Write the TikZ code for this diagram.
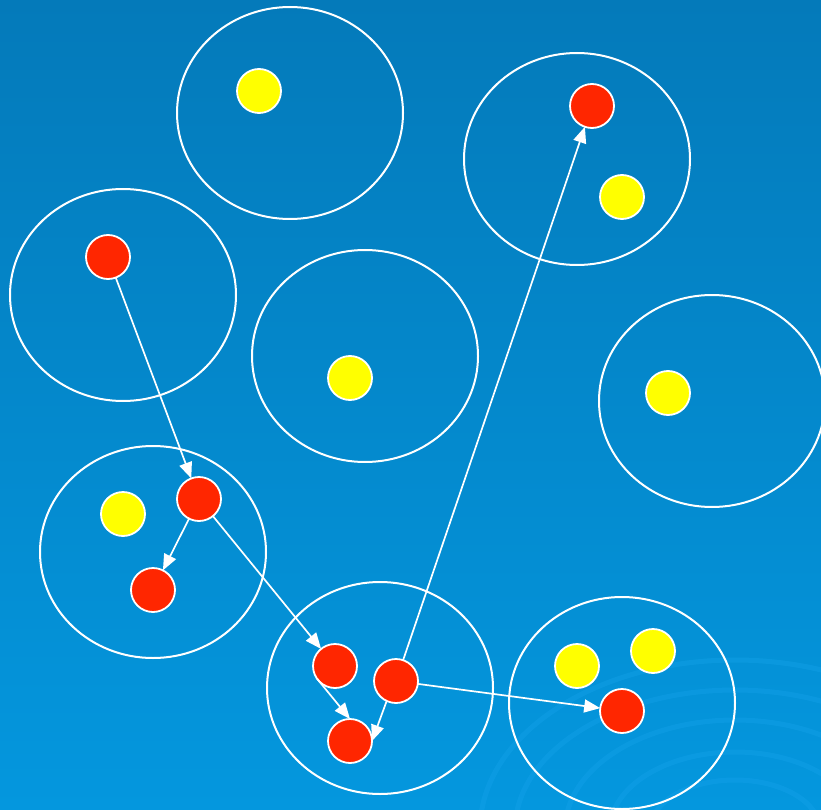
\documentclass[tikz,border=0pt]{standalone}
\definecolor{bgTop}{HTML}{047ABA}
\definecolor{bgBot}{HTML}{0497DE}
\definecolor{ripple}{HTML}{18A4EC}
\definecolor{dotRed}{HTML}{FF2600}
\definecolor{dotYellow}{HTML}{FFFF00}
\usepackage{tikz}
\usetikzlibrary{positioning,arrows.meta,shapes.geometric}

\begin{document}
\begin{tikzpicture}[x=1pt, y=-1pt,
  cluster/.style={draw=white, line width=2pt, ellipse, minimum width=226pt, minimum height=212pt, inner sep=0pt},
  dot/.style={draw=white, line width=1.8pt, circle, minimum size=44pt, inner sep=0pt, outer sep=0pt},
  rd/.style={dot, fill=dotRed}, yel/.style={dot, fill=dotYellow},
  hop/.style={draw=white, line width=1.7pt, -{Triangle[length=16pt, width=13pt]}},
  ring/.style={draw=ripple, line width=5pt, opacity=0.35}]
\shade[top color=bgTop, bottom color=bgBot] (0,0) rectangle (821,810);
\useasboundingbox (0,0) rectangle (821,810);
% ripples of the background
\begin{scope}
\clip (0,0) rectangle (821,810);
\foreach \rx/\ry in {255/170, 220/140, 170/110, 125/78, 85/50}
  \draw[ring] (735,830) ellipse[x radius=\rx, y radius=\ry];
\end{scope}
% clusters
\node[cluster] (c1) at (290,113) {};
\node[cluster] (c2) at (577,159) {};
\node[cluster] (c3) at (123,295) {};
\node[cluster] (c4) at (365,356) {};
\node[cluster] (c5) at (712,401) {};
\node[cluster] (c6) at (153,552) {};
\node[cluster] (c7) at (380,688) {};
\node[cluster] (c8) at (622,703) {};
% points
\node[yel] (y1) at (259,91) {};
\node[yel] (y2) at (622,197) {};
\node[yel] (y3) at (350,378) {};
\node[yel] (y4) at (668,393) {};
\node[yel] (y5) at (123,514) {};
\node[yel] (y6) at (577,666) {};
\node[yel] (y7) at (653,651) {};
\node[rd] (r1) at (592,106) {};
\node[rd] (r2) at (108,257) {};
\node[rd] (r3) at (199,499) {};
\node[rd] (r4) at (153,590) {};
\node[rd] (r5) at (335,666) {};
\node[rd] (r6) at (396,681) {};
\node[rd] (r7) at (350,741) {};
\node[rd] (r8) at (622,711) {};
% moves
\draw[hop] (r2) -- (r3);
\draw[hop] (r3) -- (r4);
\draw[hop] (r3) -- (r5);
\draw[hop] (r5.-145) -- (r7.north);
\draw[hop] (r6.-115) -- (r7.east);
\draw[hop] (r6) -- (r1);
\draw[hop] (r6) -- (r8);
\end{tikzpicture}
\end{document}
